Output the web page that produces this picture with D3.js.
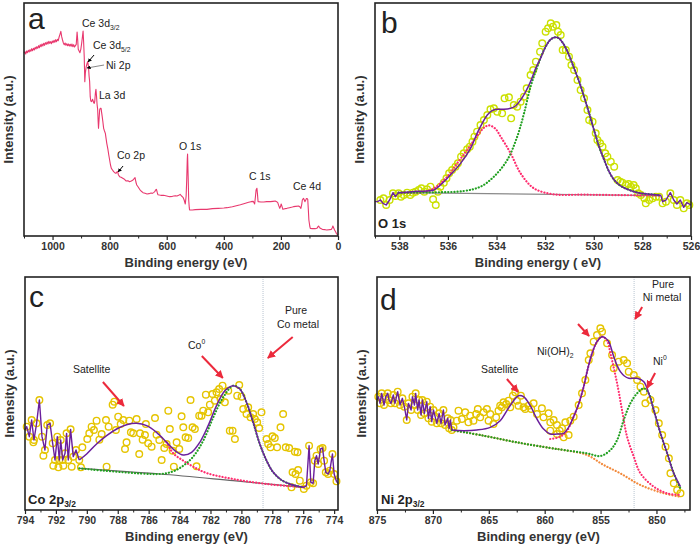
<!DOCTYPE html>
<html><head><meta charset="utf-8">
<script src="https://cdn.jsdelivr.net/npm/d3@7"></script>
<style>
body{margin:0;background:#fff}
svg{display:block}
text{font-family:Arial,"Liberation Sans",Helvetica,sans-serif}
</style></head>
<body>
<svg id="chart" width="700" height="548"></svg>
<script>
// ---------------- Panel a : survey spectrum [eV, intensity] ----------------
const surveyA = [[1100,548],[1097,553],[1094,546],[1091,555],[1088,550],[1085,557],[1082,552],[1079,559],[1076,554],[1073,562],[1070,556],[1067,563],[1064,558],[1061,566],[1058,561],[1055,568],[1052,563],[1049,571],[1046,565],[1043,574],[1040,568],[1037,576],[1034,570],[1031,578],[1028,572],[1025,580],[1022,575],[1019,582],[1016,576],[1013,584],[1010,578],[1007,583],[1004,577],[1001,585],[998,580],[995,587],[992,581],[989,589],[986,583],[983,590],[980,586],[977,597],[974,605],[971,614],[968,598],[965,588],[962,579],[959,574],[956,579],[953,572],[950,577],[947,571],[944,576],[941,570],[938,575],[935,569],[932,576],[929,568],[926,574],[923,567],[920,571],[917,575],[914,612],[912,590],[910,560],[907,555],[904,550],[901,560],[898,578],[895,600],[893,615],[891,580],[889,538],[887,463],[885,490],[882,508],[879,518],[877,523],[874,508],[872,480],[870,463],[868,418],[866,405],[863,403],[860,410],[858,406],[856,400],[854,398],[852,405],[850,428],[848,440],[846,420],[844,395],[842,380],[840,340],[839,323],[837,350],[835,378],[833,383],[830,383],[828,370],[826,358],[824,345],[821,323],[818,315],[815,308],[812,290],[810,278],[806,260],[803,243],[800,228],[797,213],[794,203],[790,198],[786,193],[782,190],[778,188],[775,192],[772,193],[769,183],[765,178],[760,176],[754,173],[748,170],[742,165],[736,166],[730,163],[724,165],[718,168],[714,172],[711,175],[708,162],[705,153],[700,147],[695,140],[690,135],[683,130],[676,128],[669,126],[662,127],[655,129],[650,128],[645,131],[642,133],[639,138],[636,140],[633,130],[631,124],[625,123],[618,122],[611,122],[600,120],[590,118],[580,119],[570,121],[564,120],[558,122],[553,125],[548,120],[543,116],[539,108],[535,96],[532,120],[530,168],[528,230],[527,246],[525,180],[523,108],[521,85],[520,78],[510,78],[500,79],[480,80],[459,80],[440,82],[420,83],[400,84],[389,85],[370,88],[342,94],[330,97],[313,101],[305,103],[297,104],[292,96],[289,120],[287,138],[284,143],[282,125],[280,103],[270,102],[260,102],[250,103],[237,103],[228,104],[220,105],[215,103],[211,100],[208,92],[204,83],[201,90],[199,96],[196,88],[193,80],[186,82],[179,83],[170,85],[160,87],[156,88],[148,89],[138,90],[133,87],[130,83],[127,95],[125,108],[121,113],[118,108],[116,103],[113,108],[111,112],[108,112],[106,110],[104,80],[102,48],[99,30],[97,23],[90,22],[80,22],[74,23],[70,28],[68,30],[65,26],[62,23],[55,20],[45,19],[39,18],[30,19],[23,20],[20,25],[18,30],[15,24],[12,18],[8,12],[6,8],[3,5],[0,3]];
const ticksA = [0,200,400,600,800,1000];
const minorA = [100,300,500,700,900,1100];

// ---------------- Panel b : O 1s ----------------
const pointsB = [[538.78,108],[538.65,113],[538.54,93],[538.40,108],[538.26,128],[538.16,120],[538.03,128],[537.93,118],[537.82,123],[537.68,130],[537.55,123],[537.44,130],[537.33,133],[537.20,138],[537.09,143],[536.97,133],[536.86,140],[536.72,148],[536.61,110],[536.50,93],[536.41,133],[536.31,148],[536.17,160],[536.06,173],[535.95,188],[535.83,198],[535.69,208],[535.59,218],[535.46,238],[535.35,248],[535.21,260],[535.10,268],[534.99,283],[534.91,298],[534.80,313],[534.66,333],[534.52,348],[534.38,363],[534.25,380],[534.11,383],[533.97,373],[533.77,368],[533.67,413],[533.49,416],[533.40,353],[533.29,393],[533.15,388],[533.01,403],[532.87,418],[532.76,443],[532.60,483],[532.49,498],[532.38,523],[532.21,553],[532.12,578],[531.98,613],[531.88,623],[531.77,638],[531.68,628],[531.54,633],[531.47,613],[531.36,603],[531.28,558],[531.15,558],[531.02,538],[530.92,513],[530.81,498],[530.67,468],[530.54,438],[530.40,413],[530.26,378],[530.19,348],[530.05,343],[529.92,308],[529.85,288],[529.74,278],[529.64,268],[529.53,248],[529.44,238],[529.30,223],[529.16,208],[529.02,168],[528.91,163],[528.82,160],[528.68,153],[528.57,156],[528.47,148],[528.36,153],[528.27,143],[528.17,128],[528.06,123],[527.92,113],[527.86,98],[527.72,108],[527.58,113],[527.44,118],[527.31,118],[527.17,98],[527.03,103],[526.85,128],[526.71,108],[526.58,93],[526.44,108],[526.30,83],[526.17,98],[526.07,93]];
const envNoiseLeftB = [[539,103],[538.9,103],[538.78,108],[538.67,98],[538.54,93],[538.40,108],[538.26,130],[538.16,118],[538.03,130]];
const envNoiseRightB = [[527.24,122],[527.17,103],[527.03,108],[526.85,130],[526.71,108],[526.58,96],[526.44,108],[526.30,86],[526.17,100],[526.0,93]];
const envB = [[538.03,130],[537.27,134],[536.58,138],[536.31,153],[535.90,183],[535.48,218],[535.07,263],[534.80,308],[534.59,338],[534.38,363],[534.18,376],[533.97,380],[533.70,380],[533.42,383],[533.22,390],[533.01,408],[532.80,433],[532.60,463],[532.39,503],[532.19,533],[531.98,568],[531.77,590],[531.57,596],[531.43,593],[531.22,573],[531.02,543],[530.81,503],[530.60,463],[530.40,418],[530.19,368],[529.99,318],[529.78,268],[529.57,228],[529.37,193],[529.16,168],[528.89,150],[528.61,140],[528.34,133],[528.06,128],[527.65,125],[527.24,122]];
const baseB = [[538.03,130],[527.24,121]];
const compRedB = [[538.03,130],[537.0,132],[536.58,143],[536.03,178],[535.62,218],[535.21,258],[534.80,300],[534.5,326],[534.3,332],[534.05,322],[533.83,298],[533.42,248],[533.01,188],[532.46,143],[531.64,125],[530.40,124],[527.24,121]];
const compGreenB = [[538.03,130],[536.58,131],[535.35,135],[534.66,148],[534.11,178],[533.56,228],[533.15,298],[532.87,368],[532.60,448],[532.32,508],[532.05,558],[531.77,590],[531.57,596],[531.43,593],[531.22,573],[531.02,543],[530.81,503],[530.60,463],[530.40,418],[530.19,368],[529.99,318],[529.78,268],[529.57,228],[529.37,193],[529.16,168],[528.89,150],[528.61,140],[528.34,133],[528.06,128],[527.65,125],[527.24,122]];
const ticksB = [526,528,530,532,534,536,538];
const minorB = [527,529,531,533,535,537,539];

// ---------------- Panel c : Co 2p3/2 ----------------
const pointsC = [[793.89,250],[793.72,220],[793.57,270],[793.46,203],[793.42,210],[793.25,260],[793.07,330],[792.90,220],[792.81,163],[792.71,180],[792.56,255],[792.38,260],[792.21,200],[792.17,133],[792.06,150],[791.91,220],[791.84,128],[791.78,150],[791.69,210],[791.56,150],[791.52,133],[791.41,170],[791.31,230],[791.20,150],[791.05,242],[790.98,130],[790.88,160],[790.70,180],[790.49,150],[790.38,128],[790.29,188],[789.97,213],[789.84,230],[789.69,250],[789.54,240],[789.37,268],[789.19,211],[789.04,228],[788.76,270],[788.72,130],[788.59,250],[788.33,316],[788.22,325],[788.12,240],[787.97,280],[787.81,258],[787.64,270],[787.53,183],[787.43,203],[787.25,268],[787.15,233],[787.00,230],[786.78,273],[786.61,168],[786.56,230],[786.39,211],[786.24,225],[786.18,258],[786.03,200],[785.81,190],[785.59,276],[785.49,226],[785.31,210],[785.16,150],[784.99,186],[784.84,198],[784.73,298],[784.63,243],[784.45,178],[784.37,130],[784.19,203],[784.02,183],[783.87,281],[783.76,248],[783.61,218],[783.44,216],[783.29,330],[783.16,248],[783.01,243],[782.90,131],[782.73,283],[782.58,283],[782.47,298],[782.30,346],[782.15,293],[782.04,316],[781.87,348],[781.72,328],[781.61,353],[781.44,363],[781.35,333],[781.22,373],[781.07,323],[780.85,358],[780.75,238],[780.57,238],[780.42,213],[780.27,343],[780.14,375],[779.99,340],[779.88,303],[779.67,288],[779.56,308],[779.41,278],[779.24,288],[779.13,273],[778.98,263],[778.85,246],[778.70,293],[778.37,213],[778.27,198],[778.12,188],[777.99,221],[777.84,216],[777.69,188],[777.47,248],[777.30,288],[777.13,188],[776.91,186],[776.76,68],[776.69,113],[776.54,175],[776.50,108],[776.37,173],[776.33,120],[776.22,88],[775.96,63],[775.79,73],[775.62,193],[775.51,83],[775.36,80],[775.25,148],[775.14,163],[775.03,138],[774.88,183],[774.75,186],[774.65,148],[774.54,113],[774.39,108],[774.28,118],[774.11,168],[774.00,108],[773.85,86]];
const envNoiseLeftC = [[794,240],[793.89,250],[793.72,220],[793.57,270],[793.42,210],[793.25,260],[793.07,330],[792.90,220],[792.71,180],[792.56,255],[792.38,260],[792.21,200],[792.06,150],[791.91,220],[791.78,150],[791.69,210],[791.56,150],[791.41,170],[791.31,230],[791.20,150],[791.05,242],[790.88,160],[790.70,180],[790.49,150]];
const envNoiseRightC = [[775.96,68],[775.79,73],[775.62,193],[775.51,83],[775.36,80],[775.25,148],[775.14,163],[775.03,138],[774.88,183],[774.75,186],[774.65,148],[774.54,113],[774.39,108],[774.28,118],[774.11,168],[774.00,108],[773.85,86],[773.75,80]];
const envC = [[790.49,150],[790.01,168],[789.37,198],[788.72,223],[788.07,243],[787.43,256],[786.78,260],[786.13,253],[785.49,233],[784.84,203],[784.30,178],[783.76,165],[783.22,173],[782.69,203],[782.15,253],[781.61,313],[781.07,358],[780.53,373],[780.10,363],[779.67,323],[779.24,263],[778.81,198],[778.37,148],[777.94,113],[777.41,90],[776.87,78],[776.33,71],[775.96,68]];
const baseC = [[790.49,125],[785.27,108],[780.53,88],[775.96,68]];
const compGreenC = [[790.49,125],[785.27,108],[784.41,116],[783.76,133],[783.12,160],[782.47,208],[781.82,278],[781.18,338],[780.53,373],[780.10,363],[779.67,323],[779.24,263],[778.81,198],[778.37,148],[777.94,113],[777.41,90],[776.87,78],[776.33,71],[775.96,68]];
const compRedC = [[784.84,203],[784.41,170],[783.76,148],[783.12,130],[782.26,111],[780.53,93],[778.37,78],[775.96,68]];
const ticksC = [774,776,778,780,782,784,786,788,790,792,794];
const minorC = [775,777,779,781,783,785,787,789,791,793];

// ---------------- Panel d : Ni 2p3/2 ----------------
const pointsD = [[874.88,340],[874.73,320],[874.58,350],[874.37,315],[874.22,340],[874.04,350],[873.92,330],[873.75,320],[873.54,345],[873.39,320],[873.15,355],[872.94,315],[872.73,335],[872.55,310],[872.34,270],[872.19,320],[871.95,300],[871.83,340],[871.65,315],[871.54,350],[871.36,300],[871.24,330],[871.06,285],[870.94,330],[870.76,290],[870.55,325],[870.40,275],[870.25,310],[870.10,265],[869.95,300],[869.80,280],[869.65,260],[869.44,290],[869.27,260],[869.06,300],[868.91,255],[868.67,275],[868.55,245],[868.43,270],[868.31,240],[868.16,248],[867.86,268],[867.71,298],[867.41,273],[867.11,293],[866.82,263],[866.67,283],[866.37,268],[866.13,288],[865.98,303],[865.77,278],[865.47,293],[865.17,303],[865.02,268],[864.87,288],[864.58,258],[864.34,278],[864.13,298],[863.98,313],[863.83,308],[863.68,323],[863.44,318],[863.23,328],[863.08,308],[862.84,343],[862.63,353],[862.49,328],[862.34,313],[862.13,343],[861.89,308],[861.74,303],[861.44,313],[861.20,303],[860.99,320],[860.69,288],[860.25,305],[860.10,278],[859.65,290],[859.50,263],[859.50,238],[859.20,270],[858.90,255],[858.90,228],[858.66,238],[858.45,245],[858.30,218],[858.15,263],[857.86,225],[857.71,268],[857.41,280],[856.96,315],[856.66,350],[856.36,390],[856.06,450],[855.91,470],[855.62,505],[855.32,525],[855.02,545],[854.87,535],[854.42,500],[853.97,465],[853.82,425],[853.38,445],[852.93,450],[852.63,440],[852.48,415],[852.03,405],[851.73,390],[851.43,370],[851.13,355],[850.99,320],[850.54,330],[850.09,300],[849.79,260],[849.49,225],[849.19,190],[848.89,155],[848.75,110],[848.45,80],[848.15,60],[847.85,50]];
const envNoiseD = [[875,330],[874.88,340],[874.73,320],[874.58,350],[874.37,315],[874.22,340],[874.04,350],[873.92,330],[873.75,320],[873.54,345],[873.39,320],[873.15,355],[872.94,315],[872.73,335],[872.55,310],[872.34,270],[872.19,320],[871.95,300],[871.83,340],[871.65,315],[871.54,350],[871.36,300],[871.24,330],[871.06,285],[870.94,330],[870.76,290],[870.55,325],[870.40,275],[870.25,310],[870.10,265],[869.95,300],[869.80,280],[869.65,260],[869.44,290],[869.27,260],[869.06,300],[868.91,255],[868.67,275],[868.55,245],[868.43,270],[868.31,240]];
const envD = [[868.31,240],[867.26,238],[866.07,240],[864.87,248],[863.98,268],[863.38,298],[862.78,328],[862.34,343],[861.89,340],[861.29,313],[860.69,273],[860.10,243],[859.50,228],[858.90,228],[858.30,230],[857.86,248],[857.41,280],[856.96,318],[856.51,370],[856.15,423],[855.76,470],[855.32,505],[854.87,520],[854.57,516],[854.27,505],[853.82,460],[853.52,433],[853.23,415],[852.87,402],[852.48,395],[851.73,395],[851.13,385],[850.69,350],[850.24,300],[849.64,230],[849.04,170],[848.45,110],[847.85,70]];
const backD = [[868.31,240],[865.47,223],[862.49,203],[859.50,186],[858.30,180],[856.21,165],[854.72,135],[853.23,110],[851.43,75],[849.34,50],[847.85,40]];
const compGreenD = [[868.31,240],[865.47,223],[862.49,203],[859.50,186],[858.30,180],[856.21,170],[855.02,162],[854.12,180],[853.52,210],[852.93,270],[852.33,320],[851.73,350],[851.13,365],[850.69,350],[850.24,300],[849.64,230],[849.04,170],[848.45,110],[847.85,64]];
const compRedD = [[859.50,213],[858.6,220],[858.0,238],[857.41,280],[856.96,318],[856.51,370],[856.15,423],[855.76,470],[855.32,505],[854.87,520],[854.42,508],[854.12,470],[853.52,380],[853.08,300],[852.63,220],[852.03,160],[851.43,110],[850.24,70],[849.04,50],[847.85,45]];
const ticksD = [850,855,860,865,870,875];
const minorD = [847.5,852.5,857.5,862.5,867.5,872.5];

// reference lines & arrows  [E, I] start -> end (tip)
const refLineC = 778.6, refLineD = 852;
const arrowsA = [[[854.6,543],[875.7,522]],[[753,210],[770.5,192]]];
const niLineA = [[819.6,513],[879.2,504]];
const arrowsC = [[[788.96,384],[787.6,312]],[[782.56,462],[781.2,396]],[[776.68,519],[778.29,456]]];
const arrowsD = [[[863.38,393],[862.39,354]],[[857.02,558],[856.03,522]],[[851.28,609],[851.91,573]],[[850.12,411],[850.84,366]]];

// ------------------------------------------------------------------
const svg = d3.select('#chart');
const FONT = 'Arial, "Liberation Sans", sans-serif';
const COL = {purple:'#6a1f9c', red:'#ff2d6f', green:'#22a022', orange:'#f28a3c', gray:'#8a8a8a',
  arrow:'#ec2a3c', ptB:'#cbe000', ptCD:'#e5c400', survey:'#e8386e'};

const defs = svg.append('defs');
function marker(id, color){
  defs.append('marker').attr('id',id).attr('viewBox','0 0 10 10').attr('refX',9).attr('refY',5)
    .attr('markerWidth',4).attr('markerHeight',4).attr('orient','auto-start-reverse')
    .append('path').attr('d','M0,0L10,5L0,10z').attr('fill',color);
}
marker('arRed', COL.arrow);
marker('arBlk', '#000');

function panel(box, xDomain, ticks, minor, xTitle){
  const x = d3.scaleLinear().domain(xDomain).range([box.l, box.r]);
  const y = d3.scaleLinear().domain([0, 699]).range([box.b, box.t]);
  const g = svg.append('g');
  const ax = g.append('g').attr('transform',`translate(0,${box.b})`)
    .call(d3.axisBottom(x).tickValues(ticks).tickSize(4).tickPadding(3).tickFormat(d3.format('d')));
  ax.select('.domain').remove();
  ax.selectAll('line').attr('stroke','#222').attr('stroke-width',1.2);
  ax.selectAll('text').attr('font-family',FONT).attr('font-size',10.5).attr('font-weight','bold').attr('fill','#333');
  const mx = g.append('g').attr('transform',`translate(0,${box.b})`)
    .call(d3.axisBottom(x).tickValues(minor).tickSize(2.5).tickFormat(''));
  mx.select('.domain').remove();
  mx.selectAll('line').attr('stroke','#222').attr('stroke-width',1);
  g.append('text').attr('x',(box.l+box.r)/2+5).attr('y',box.b+31).attr('text-anchor','middle')
    .attr('font-family',FONT).attr('font-size',13).attr('font-weight','bold').attr('fill','#333').text(xTitle);
  g.append('text').attr('transform',`translate(${box.l-11},${(box.t+box.b)/2}) rotate(-90)`)
    .attr('text-anchor','middle').attr('font-family',FONT).attr('font-size',13).attr('font-weight','bold').attr('fill','#333')
    .text('Intensity (a.u.)');
  const plot = g.append('g');
  g.append('rect').attr('x',box.l).attr('y',box.t).attr('width',box.r-box.l).attr('height',box.b-box.t)
    .attr('fill','none').attr('stroke','#222').attr('stroke-width',1.6);
  return {x, y, g: plot, box};
}

const lin = (p, curve) => d3.line().x(d=>p.x(d[0])).y(d=>p.y(d[1])).curve(curve || d3.curveLinear);
const smooth = d3.curveCatmullRom.alpha(0.5);

function path(p, data, color, w, curve, dash){
  const el = p.g.append('path').datum(data).attr('d', lin(p, curve)).attr('fill','none')
    .attr('stroke', color).attr('stroke-width', w).attr('stroke-linejoin','round');
  if (dash) el.attr('stroke-dasharray', dash).attr('stroke-linecap','round');
  return el;
}
const DOT = '0.1,3';
function points(p, data, color){
  p.g.selectAll(null).data(data).enter().append('circle')
    .attr('cx', d=>p.x(d[0])).attr('cy', d=>p.y(d[1])).attr('r', 3.3)
    .attr('fill','none').attr('stroke', color).attr('stroke-width', 1.4);
}
function arrows(p, list, color, mk){
  list.forEach(a => p.g.append('line')
    .attr('x1',p.x(a[0][0])).attr('y1',p.y(a[0][1])).attr('x2',p.x(a[1][0])).attr('y2',p.y(a[1][1]))
    .attr('stroke',color).attr('stroke-width',mk==='arBlk'?1:2).attr('marker-end',`url(#${mk})`));
}
function label(parts, x, y, size, weight, fill){
  const t = svg.append('text').attr('x',x).attr('y',y).attr('font-family',FONT)
    .attr('font-size',size).attr('font-weight',weight||'normal').attr('fill',fill||'#222');
  parts.forEach(pt => {
    const s = t.append('tspan').text(pt.t);
    if (pt.sub) s.attr('font-size', size*0.65).attr('dy', pt.sub);
    if (pt.back) s.attr('dy', pt.back);
  });
  return t;
}

// ---- Panel a
const pa = panel({l:24,r:338,t:3,b:236},[1100,0],ticksA,minorA,'Binding energy (eV)');
path(pa, surveyA, COL.survey, 1.1);
arrows(pa, arrowsA, '#000', 'arBlk');
pa.g.append('line').attr('x1',pa.x(niLineA[0][0])).attr('y1',pa.y(niLineA[0][1]))
  .attr('x2',pa.x(niLineA[1][0])).attr('y2',pa.y(niLineA[1][1])).attr('stroke','#888').attr('stroke-width',1)
  .attr('marker-end','url(#arBlk)');

// ---- Panel b
const pb = panel({l:375,r:691,t:3,b:236},[539,526],ticksB,minorB,'Binding energy ( eV)');
points(pb, pointsB, COL.ptB);
path(pb, baseB, COL.gray, 1.2);
path(pb, compRedB, COL.red, 2.2, smooth, DOT);
path(pb, compGreenB, COL.green, 2.2, smooth, DOT);
path(pb, envNoiseLeftB, COL.purple, 1.4);
path(pb, envNoiseRightB, COL.purple, 1.4);
path(pb, envB, COL.purple, 1.5, smooth);

// ---- Panel c
const pc = panel({l:25,r:338,t:277,b:510},[794,773.75],ticksC,minorC,'Binding energy (eV)');
pc.g.append('line').attr('x1',pc.x(refLineC)).attr('x2',pc.x(refLineC)).attr('y1',pc.box.t).attr('y2',pc.box.b)
  .attr('stroke','#b8c4d0').attr('stroke-width',1).attr('stroke-dasharray','1,1');
points(pc, pointsC, COL.ptCD);
path(pc, baseC, '#666', 1.2, smooth);
path(pc, compRedC, COL.red, 2.2, smooth, DOT);
path(pc, compGreenC, COL.green, 2.2, smooth, DOT);
path(pc, envNoiseLeftC, COL.purple, 1.4);
path(pc, envNoiseRightC, COL.purple, 1.4);
path(pc, envC, COL.purple, 1.5, smooth);
arrows(pc, arrowsC, COL.arrow, 'arRed');

// ---- Panel d
const pd = panel({l:377,r:690,t:277,b:510},[875,847],ticksD,minorD,'Binding energy (eV)');
pd.g.append('line').attr('x1',pd.x(refLineD)).attr('x2',pd.x(refLineD)).attr('y1',pd.box.t).attr('y2',pd.box.b)
  .attr('stroke','#b8c4d0').attr('stroke-width',1).attr('stroke-dasharray','1,1');
points(pd, pointsD, COL.ptCD);
path(pd, backD, COL.orange, 2.2, smooth, DOT);
path(pd, compRedD, COL.red, 2.2, smooth, DOT);
path(pd, compGreenD, COL.green, 2.2, smooth, DOT);
path(pd, envNoiseD, COL.purple, 1.4);
path(pd, envD, COL.purple, 1.5, smooth);
arrows(pd, arrowsD, COL.arrow, 'arRed');

// ---- labels
label([{t:'a'}], 28, 29, 30);
label([{t:'b'}], 381, 33, 30);
label([{t:'c'}], 29, 307, 30);
label([{t:'d'}], 380, 310, 30);

label([{t:'Ce 3d'},{t:'3/2',sub:3}], 82, 27, 10.5);
label([{t:'Ce 3d'},{t:'5/2',sub:3}], 93, 49, 10.5);
label([{t:'Ni 2p'}], 106, 69, 10.5);
label([{t:'La 3d'}], 99, 99, 10.5);
label([{t:'Co 2p'}], 117, 159, 10.5);
label([{t:'O 1s'}], 179, 150, 10.5);
label([{t:'C 1s'}], 249, 180, 10.5);
label([{t:'Ce 4d'}], 293, 190, 10.5);

label([{t:'O 1s'}], 378, 228, 13, 'bold');
label([{t:'Co 2p'},{t:'3/2',sub:3}], 28, 504, 13, 'bold');
label([{t:'Ni 2p'},{t:'3/2',sub:3}], 381, 504, 13, 'bold');

label([{t:'Satellite'}], 73, 373, 10.5);
label([{t:'Co'},{t:'0',sub:-5}], 188, 349, 10.5);
label([{t:'Pure'}], 296, 314, 10.5).attr('text-anchor','middle');
label([{t:'Co metal'}], 298, 328, 10.5).attr('text-anchor','middle');

label([{t:'Satellite'}], 481, 373, 10.5);
label([{t:'Ni(OH)'},{t:'2',sub:3}], 537, 355, 10.5);
label([{t:'Pure'}], 663, 288, 10.5).attr('text-anchor','middle');
label([{t:'Ni metal'}], 662, 301, 10.5).attr('text-anchor','middle');
label([{t:'Ni'},{t:'0',sub:-5}], 653, 365, 10.5);
</script>
</body></html>
